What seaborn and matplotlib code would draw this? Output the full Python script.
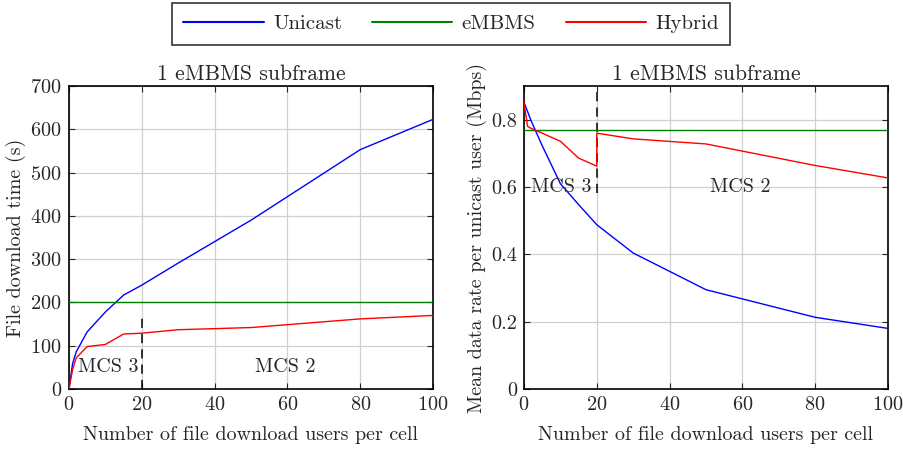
import matplotlib
matplotlib.use("Agg")
import matplotlib.pyplot as plt
import seaborn as sns
import pandas as pd
from matplotlib.lines import Line2D

# Number of file download users per cell
users = [0, 1, 2, 5, 10, 15, 20, 30, 50, 80, 100]

# File download time (s)
time_unicast = [0, 59, 86, 132, 178, 217, 240, 291, 390, 553, 623]
time_embms = [200] * len(users)
time_hybrid = [0, 45, 72, 98, 103, 127, 129, 137, 142, 162, 170]

# Mean data rate per unicast user (Mbps); hybrid switches MCS at 20 users
rate_unicast = [0.852, 0.824, 0.796, 0.723, 0.61, 0.548, 0.488, 0.404, 0.295, 0.213, 0.180]
rate_embms = [0.768] * len(users)
users_hybrid_rate = [0, 1, 2, 5, 10, 15, 20, 20, 30, 50, 80, 100]
rate_hybrid = [0.852, 0.78, 0.774, 0.76, 0.736, 0.686, 0.662, 0.760, 0.743, 0.728, 0.664, 0.627]

series = ["Unicast", "eMBMS", "Hybrid"]
colors = {"Unicast": "#0000ff", "eMBMS": "#008000", "Hybrid": "#ff0000"}

mcs_switch = 20
time_dash_top = 165
rate_dash_bottom = 0.582

sns.set_style("whitegrid")
plt.rcParams["font.family"] = ["cmr10", "DejaVu Serif"]
plt.rcParams["axes.formatter.use_mathtext"] = True
plt.rcParams["mathtext.fontset"] = "cm"

df_time = pd.concat([
    pd.DataFrame({"users": users, "value": time_unicast, "scheme": "Unicast"}),
    pd.DataFrame({"users": users, "value": time_embms, "scheme": "eMBMS"}),
    pd.DataFrame({"users": users, "value": time_hybrid, "scheme": "Hybrid"}),
], ignore_index=True)

df_rate = pd.concat([
    pd.DataFrame({"users": users, "value": rate_unicast, "scheme": "Unicast"}),
    pd.DataFrame({"users": users, "value": rate_embms, "scheme": "eMBMS"}),
    pd.DataFrame({"users": users_hybrid_rate, "value": rate_hybrid, "scheme": "Hybrid"}),
], ignore_index=True)

fig = plt.figure(figsize=(9.04, 4.49), dpi=100)
ax1 = fig.add_axes([0.0763, 0.1336, 0.4027, 0.6748])
ax2 = fig.add_axes([0.5796, 0.1336, 0.4027, 0.6748])

fs = 14.4
fs_title = 15.6

for ax, df in ((ax1, df_time), (ax2, df_rate)):
    sns.lineplot(data=df, x="users", y="value", hue="scheme", hue_order=series,
                 palette=colors, estimator=None, sort=False, linewidth=1.0,
                 ax=ax, legend=False, zorder=3)
    ax.set_xlim(0, 100)
    ax.set_xticks(range(0, 101, 20))
    ax.set_title("1 eMBMS subframe", fontsize=fs_title, pad=4)
    ax.set_xlabel("Number of file download users per cell", fontsize=fs, labelpad=9)
    ax.grid(True, color="#d0d0d0", linewidth=0.9)
    ax.tick_params(direction="in", length=4, width=0.8, labelsize=14.6,
                   top=True, right=True, bottom=True, left=True, pad=5)
    for sp in ax.spines.values():
        sp.set_color("black")
        sp.set_linewidth(1.2)
    ax.set_axisbelow(True)

ax1.set_ylim(0, 700)
ax1.set_yticks(range(0, 701, 100))
ax1.set_ylabel("File download time (s)", fontsize=fs, labelpad=3)
ax1.plot([mcs_switch, mcs_switch], [0, time_dash_top], color="black",
         linestyle=(0, (6, 4)), linewidth=1.1, zorder=4)
ax1.text(2.5, 50, "MCS 3", fontsize=fs, ha="left", va="center")
ax1.text(51, 50, "MCS 2", fontsize=fs, ha="left", va="center")

ax2.set_ylim(0, 0.9)
ax2.set_yticks([0, 0.2, 0.4, 0.6, 0.8])
ax2.set_yticklabels(["0", "0.2", "0.4", "0.6", "0.8"])
ax2.set_ylabel("Mean data rate per unicast user (Mbps)", fontsize=fs, labelpad=3)
ax2.plot([mcs_switch, mcs_switch], [rate_dash_bottom, 0.9], color="black",
         linestyle=(0, (6, 4)), linewidth=1.1, zorder=2)
ax2.text(2, 0.6, "MCS 3", fontsize=fs, ha="left", va="center")
ax2.text(51, 0.6, "MCS 2", fontsize=fs, ha="left", va="center")

handles = [Line2D([], [], color=colors[s], linewidth=1.5) for s in series]
leg = fig.legend(handles, series, loc="upper center", bbox_to_anchor=(0.499, 1.0),
                 ncol=3, fontsize=15, frameon=True, fancybox=False,
                 handlelength=3.85, columnspacing=1.45, handletextpad=0.45,
                 borderpad=0.55, borderaxespad=0.15)
leg.get_frame().set_edgecolor("black")
leg.get_frame().set_linewidth(1.2)

fig.savefig("out.png", dpi=100)
